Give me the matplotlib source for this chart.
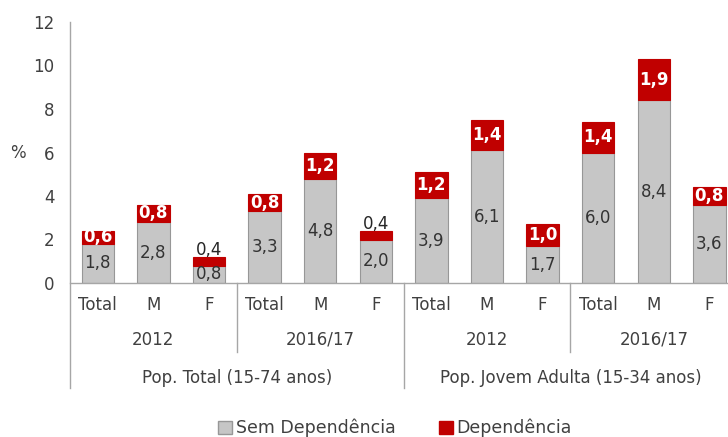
import matplotlib.pyplot as plt
from matplotlib.patches import Patch
import matplotlib.transforms as mtransforms

# --- Data
sex_labels = ['Total', 'M', 'F'] * 4
year_labels = ['2012', '2016/17', '2012', '2016/17']
group_labels = ['Pop. Total (15-74 anos)', 'Pop. Jovem Adulta (15-34 anos)']
sem_dep = [1.8, 2.8, 0.8, 3.3, 4.8, 2.0, 3.9, 6.1, 1.7, 6.0, 8.4, 3.6]
dep = [0.6, 0.8, 0.4, 0.8, 1.2, 0.4, 1.2, 1.4, 1.0, 1.4, 1.9, 0.8]

GREY = '#C6C6C6'
GREY_EDGE = '#979797'
RED = '#C00000'
AXIS = '#A6A6A6'
TEXT = '#404040'

plt.rcParams['font.family'] = ['DejaVu Sans']


def fmt(v):
    return f'{v:.1f}'.replace('.', ',')


W, H = 728, 437
fig = plt.figure(figsize=(W / 100, H / 100), dpi=100)
left, bottom, top = 70, 283, 22
ax = fig.add_axes([left / W, 1 - bottom / H, (W - left) / W, (bottom - top) / H])

x = list(range(len(sem_dep)))
ax.bar(x, sem_dep, width=0.58, color=GREY, edgecolor=GREY_EDGE, linewidth=0.8, zorder=2)
ax.bar(x, dep, bottom=sem_dep, width=0.58, color=RED, edgecolor=RED, linewidth=0.8, zorder=2)

ax.set_ylim(0, 12)
ax.set_xlim(-0.5, -0.5 + (W - left) / 55.6)
ax.set_yticks(range(0, 13, 2))
ax.tick_params(axis='y', length=0, pad=11, labelsize=12, labelcolor=TEXT)
ax.set_xticks([])

for s in ['top', 'right']:
    ax.spines[s].set_visible(False)
ax.spines['left'].set_visible(False)
ax.spines['bottom'].set_color(AXIS)
ax.spines['bottom'].set_linewidth(1)

# --- value labels
for xi, s, d in zip(x, sem_dep, dep):
    ax.text(xi, s / 2, fmt(s), ha='center', va='center', fontsize=12, color='#333333', zorder=3)
    if d < 0.5:
        ax.text(xi, s + d + 0.3, fmt(d), ha='center', va='center', fontsize=12,
                color='#262626', zorder=3)
    else:
        ax.text(xi, s + d / 2, fmt(d), ha='center', va='center', fontsize=12,
                color='white', fontweight='bold', zorder=3)

# --- multi-level category axis
trans = mtransforms.blended_transform_factory(ax.transData, ax.transAxes)
px = 1 / (bottom - top)  # one pixel in axes fraction
for xi, lab in zip(x, sex_labels):
    ax.text(xi, -22 * px, lab, transform=trans, ha='center', va='center',
            fontsize=12, color=TEXT)
for i, lab in enumerate(year_labels):
    ax.text(3 * i + 1, -57 * px, lab, transform=trans, ha='center', va='center',
            fontsize=12, color=TEXT)
for i, lab in enumerate(group_labels):
    ax.text(6 * i + 2.5, -95 * px, lab, transform=trans, ha='center', va='center',
            fontsize=12, color=TEXT)

# separators
ax.plot([-0.5, -0.5], [-105 * px, 1], transform=trans, color=AXIS, lw=1, clip_on=False)
for xs in [2.5, 8.5]:
    ax.plot([xs, xs], [-69 * px, 0], transform=trans, color=AXIS, lw=1, clip_on=False)
ax.plot([5.5, 5.5], [-105 * px, 0], transform=trans, color=AXIS, lw=1, clip_on=False)

ax.text((18 - left) / (W - left), 6, '%', transform=mtransforms.blended_transform_factory(ax.transAxes, ax.transData),
        ha='center', va='center', fontsize=12, color=TEXT)

handles = [Patch(facecolor=GREY, edgecolor=GREY_EDGE, label='Sem Dependência'),
           Patch(facecolor=RED, edgecolor=RED, label='Dependência')]
fig.legend(handles=handles, loc='center', bbox_to_anchor=(395 / W, 1 - 428 / H), ncol=2,
           frameon=False, fontsize=12.5, handlelength=0.8, handleheight=0.8,
           handletextpad=0.2, columnspacing=2.5, labelcolor=TEXT)

fig.savefig('out.png', dpi=100)
